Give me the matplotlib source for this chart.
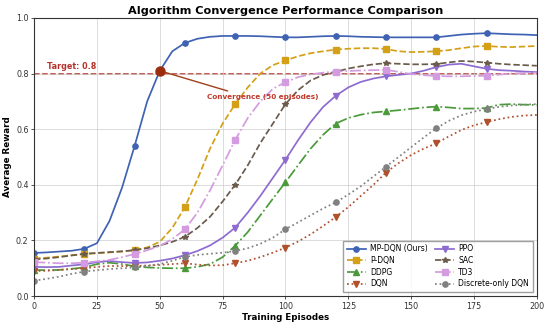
import numpy as np
import matplotlib
matplotlib.use("Agg")
import matplotlib.pyplot as plt

episodes = list(range(0, 201, 5))

mp_dqn = [0.155, 0.157, 0.160, 0.163, 0.170, 0.190, 0.270, 0.390, 0.540, 0.700, 0.810,
          0.880, 0.910, 0.925, 0.932, 0.935, 0.935, 0.935, 0.934, 0.932, 0.930,
          0.930, 0.932, 0.934, 0.935, 0.934, 0.932, 0.931, 0.930, 0.930, 0.930,
          0.930, 0.930, 0.935, 0.940, 0.943, 0.945, 0.943, 0.941, 0.940, 0.938]
p_dqn = [0.135, 0.138, 0.142, 0.147, 0.151, 0.154, 0.157, 0.160, 0.165, 0.175, 0.195,
         0.245, 0.320, 0.420, 0.530, 0.620, 0.690, 0.750, 0.800, 0.830, 0.847,
         0.862, 0.873, 0.880, 0.886, 0.889, 0.891, 0.891, 0.888, 0.880, 0.877,
         0.878, 0.880, 0.884, 0.891, 0.897, 0.899, 0.896, 0.895, 0.897, 0.899]
ddpg = [0.094, 0.093, 0.094, 0.098, 0.103, 0.115, 0.120, 0.115, 0.107, 0.103, 0.101,
        0.100, 0.100, 0.105, 0.115, 0.140, 0.181, 0.230, 0.290, 0.350, 0.409,
        0.470, 0.530, 0.580, 0.620, 0.640, 0.652, 0.660, 0.664, 0.668, 0.673,
        0.678, 0.681, 0.678, 0.674, 0.674, 0.676, 0.688, 0.690, 0.688, 0.687]
dqn = [0.090, 0.091, 0.094, 0.097, 0.100, 0.105, 0.108, 0.108, 0.108, 0.110, 0.112,
       0.115, 0.118, 0.113, 0.110, 0.111, 0.118, 0.127, 0.140, 0.156, 0.174,
       0.196, 0.222, 0.252, 0.284, 0.320, 0.360, 0.400, 0.444, 0.478, 0.507,
       0.530, 0.549, 0.574, 0.597, 0.614, 0.625, 0.636, 0.644, 0.649, 0.651]
ppo = [0.105, 0.104, 0.105, 0.110, 0.114, 0.122, 0.126, 0.122, 0.119, 0.121, 0.127,
       0.135, 0.147, 0.162, 0.182, 0.210, 0.246, 0.300, 0.360, 0.425, 0.490,
       0.560, 0.625, 0.680, 0.720, 0.750, 0.770, 0.782, 0.790, 0.795, 0.800,
       0.810, 0.823, 0.832, 0.835, 0.826, 0.817, 0.812, 0.810, 0.807, 0.805]
sac = [0.132, 0.135, 0.140, 0.146, 0.152, 0.155, 0.158, 0.161, 0.165, 0.172, 0.182,
       0.195, 0.213, 0.245, 0.285, 0.340, 0.400, 0.470, 0.550, 0.620, 0.690,
       0.740, 0.775, 0.795, 0.806, 0.818, 0.826, 0.833, 0.837, 0.835, 0.833,
       0.833, 0.834, 0.840, 0.845, 0.843, 0.839, 0.835, 0.832, 0.830, 0.828]
td3 = [0.122, 0.120, 0.118, 0.118, 0.120, 0.125, 0.130, 0.140, 0.151, 0.165, 0.180,
       0.205, 0.240, 0.300, 0.380, 0.470, 0.561, 0.640, 0.700, 0.745, 0.769,
       0.787, 0.797, 0.803, 0.807, 0.809, 0.811, 0.812, 0.813, 0.806, 0.798,
       0.794, 0.791, 0.790, 0.790, 0.791, 0.792, 0.796, 0.800, 0.802, 0.803]
discrete_dqn = [0.055, 0.062, 0.070, 0.080, 0.088, 0.093, 0.097, 0.100, 0.103, 0.108, 0.115,
                0.127, 0.141, 0.148, 0.152, 0.156, 0.162, 0.172, 0.188, 0.210, 0.240,
                0.265, 0.290, 0.315, 0.337, 0.365, 0.395, 0.430, 0.465, 0.500, 0.535,
                0.570, 0.603, 0.630, 0.650, 0.663, 0.672, 0.680, 0.685, 0.688, 0.690]

labels = ["MP-DQN (Ours)", "P-DQN", "DDPG", "DQN", "PPO", "SAC", "TD3", "Discrete-only DQN"]
series = [mp_dqn, p_dqn, ddpg, dqn, ppo, sac, td3, discrete_dqn]
colors = ["#3f62b3", "#d4a017", "#4a9a3a", "#b0502c", "#8e6bd0", "#6b5b4b", "#d49be0", "#808080"]
styles = ["-", "--", "-.", ":", "-", "--", "-.", ":"]
markers = ["o", "s", "^", "v", "v", "*", "s", "o"]

target = 0.8
conv_ep = 50
conv_val = 0.81
xticks = [0, 25, 50, 75, 100, 125, 150, 175, 200]
yticks = [0.0, 0.2, 0.4, 0.6, 0.8, 1.0]

fig = plt.figure(figsize=(5.5, 3.25), dpi=100)
ax = fig.add_axes([0.062, 0.089, 0.914, 0.856])

for lab, vals, c, ls, m in zip(labels, series, colors, styles, markers):
    ax.plot(episodes, vals, color=c, linestyle=ls, marker=m, markersize=3.8,
            markevery=slice(0, 40, 4), linewidth=1.25, label=lab)

ax.axhline(target, color="#b8322a", linestyle="--", linewidth=1.1, zorder=1)
ax.text(5, target + 0.008, "Target: 0.8", color="#b8322a", fontsize=5.8,
        fontweight="bold", ha="left", va="bottom")

ax.plot([conv_ep], [conv_val], "o", color="#9b2d0e", markersize=6.5, zorder=5)
ax.annotate("Convergence (50 episodes)", xy=(conv_ep, conv_val), xytext=(91, 0.715),
            ha="center", va="center", fontsize=5.2, fontweight="bold", color="#c0392b",
            arrowprops=dict(arrowstyle="-", color="#a0401a", lw=1.0, relpos=(0.28, 1.0),
                            shrinkA=1, shrinkB=0))

ax.set_xlim(0, 200)
ax.set_ylim(0, 1.0)
ax.set_xticks(xticks)
ax.set_yticks(yticks)
ax.set_yticklabels([f"{v:.1f}" for v in yticks])
ax.tick_params(labelsize=5.8, length=2.5, width=0.6, pad=1.5, colors="#333333")
ax.grid(True, color="#cccccc", linewidth=0.6, alpha=0.8)
for s in ax.spines.values():
    s.set_color("#333333")
    s.set_linewidth(0.8)

ax.set_title("Algorithm Convergence Performance Comparison", fontsize=8.1,
             fontweight="bold", pad=3)
ax.set_xlabel("Training Episodes", fontsize=6.3, fontweight="bold", labelpad=2)
ax.set_ylabel("Average Reward", fontsize=6.3, fontweight="bold", labelpad=3)

ax.legend(loc="lower right", ncol=2, fontsize=5.5, frameon=True, edgecolor="#888888",
          handlelength=2.4, columnspacing=1.0, labelspacing=0.35, borderpad=0.5,
          handletextpad=0.6, fancybox=False)

fig.savefig("out.png", dpi=100)
